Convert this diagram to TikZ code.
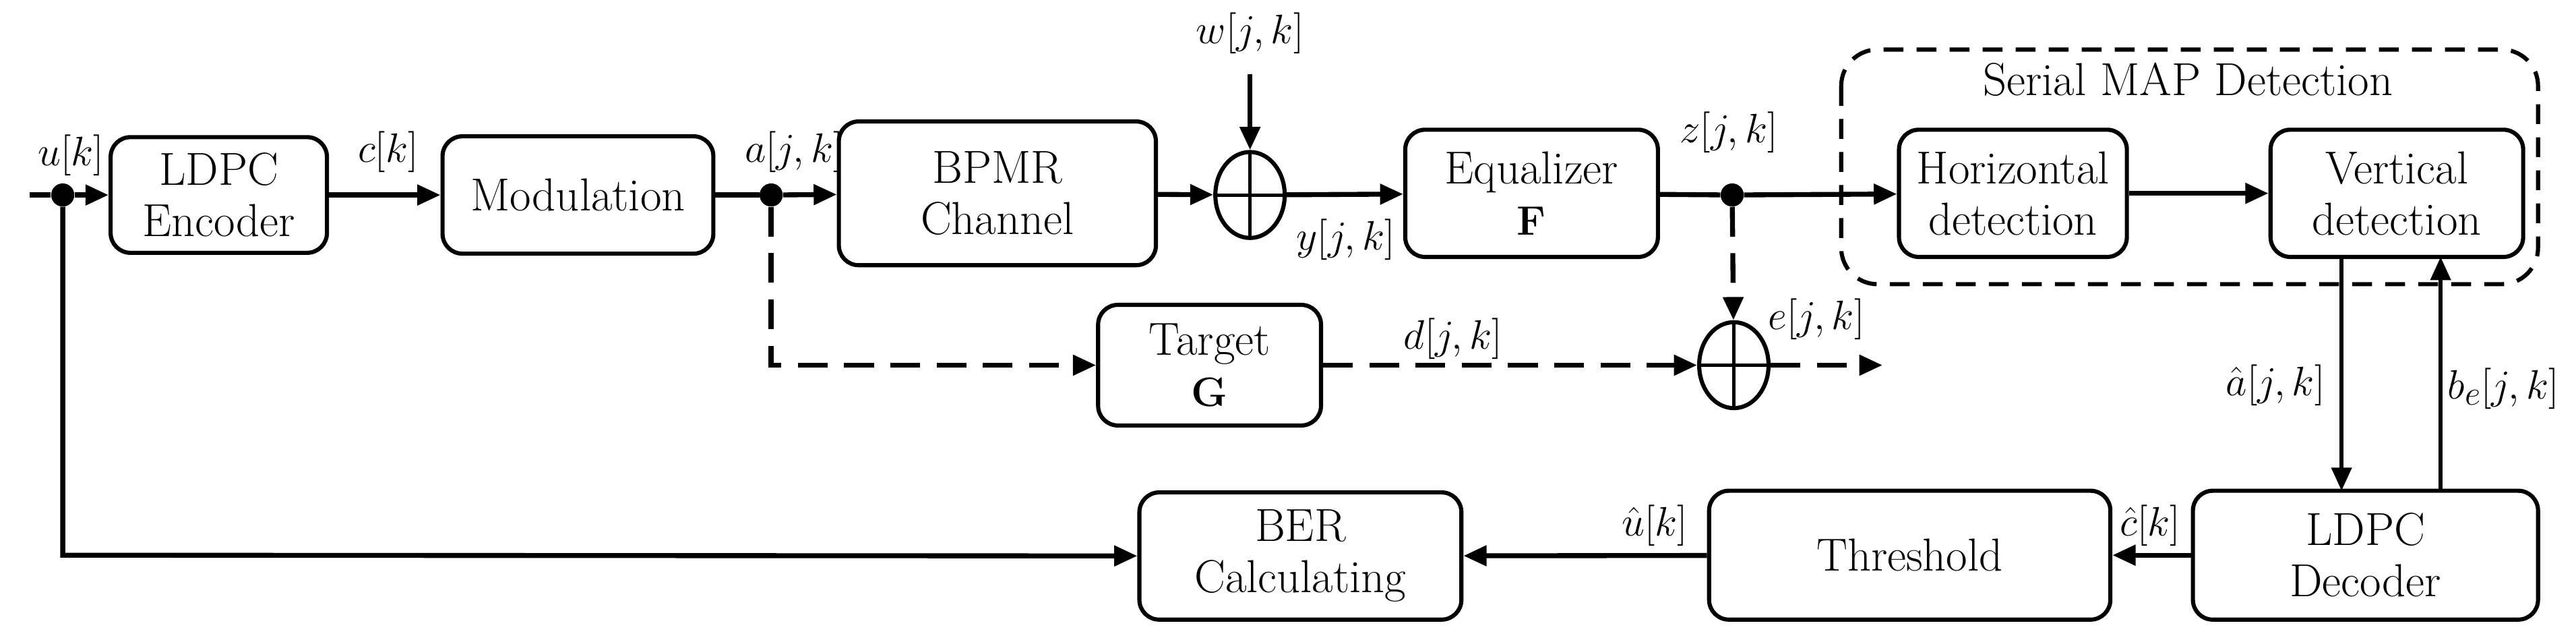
\documentclass[tikz,border=0pt]{standalone}
\usetikzlibrary{arrows.meta,shapes.geometric}
\begin{document}
\begin{tikzpicture}[x=1pt,y=-1pt,
  every node/.style={font=\fontsize{28}{31}\selectfont},
  blk/.style={draw,line width=2.5pt,rounded corners=12pt,align=center,inner sep=0pt},
  conn/.style={line width=3pt,-{Triangle[length=14pt,width=12pt]}},
  dconn/.style={conn,dash pattern=on 18pt off 10pt},
  dot/.style={circle,fill,inner sep=0pt,minimum size=14pt},
  sum/.style={draw,line width=2.5pt,ellipse,minimum width=42pt,minimum height=52pt,inner sep=0pt,
    path picture={\draw[line width=2pt] (path picture bounding box.north)--(path picture bounding box.south) (path picture bounding box.west)--(path picture bounding box.east);}},
  lbl/.style={inner sep=1pt}]
\useasboundingbox (0,0) rectangle (1560,386.1);
\node[blk,minimum width=131pt,minimum height=70pt] (enc) at (132.5,118) {LDPC\\Encoder};
\node[blk,minimum width=164pt,minimum height=71pt] (mod) at (350,118) {Modulation};
\node[blk,minimum width=192pt,minimum height=87pt] (ch) at (604,117) {BPMR\\Channel};
\node[blk,minimum width=153pt,minimum height=77pt] (eq) at (927.5,117) {Equalizer\\$\mathbf{F}$};
\node[blk,minimum width=138pt,minimum height=77pt] (hd) at (1219,117) {Horizontal\\detection};
\node[blk,minimum width=153pt,minimum height=77pt] (vd) at (1451.5,117) {Vertical\\detection};
\node[blk,minimum width=135pt,minimum height=73pt] (tg) at (732.5,221) {Target\\$\mathbf{G}$};
\node[blk,minimum width=209pt,minimum height=78pt] (dec) at (1432.5,336) {LDPC\\Decoder};
\node[blk,minimum width=243pt,minimum height=78pt] (th) at (1156.5,336) {Threshold};
\node[blk,minimum width=195pt,minimum height=77pt] (ber) at (787.5,336.5) {BER\\Calculating};
\draw[line width=2.5pt,dash pattern=on 12pt off 8pt,rounded corners=22pt] (1115,30) rectangle (1537,172);
\node at (1325,48) {Serial MAP Detection};
\node[dot] (u) at (38,118) {};
\node[dot] (a) at (467,118) {};
\node[dot] (z) at (1049,118) {};
\node[sum] (s1) at (757,118) {};
\node[sum] (s2) at (1050,221) {};
\coordinate (in) at (18,118);
\coordinate (w) at (757,45);
\coordinate (eout) at (1140,221);
\coordinate (fb) at (38,336);
\coordinate (ad) at (467,221);
\draw[line width=3pt] (in) -- (u);
\draw[conn] (u) -- (enc);
\draw[conn] (enc) -- (mod);
\draw[line width=3pt] (mod) -- (a);
\draw[conn] (a) -- (ch);
\draw[conn] (ch) -- (s1);
\draw[conn] (w) -- (s1);
\draw[conn] (s1) -- (eq);
\draw[line width=3pt] (eq) -- (z);
\draw[conn] (z) -- (hd);
\draw[conn] (hd) -- (vd);
\draw[dconn] (a) -- (ad) -- (tg);
\draw[dconn] (tg) -- (s2);
\draw[dconn] (z) -- (s2);
\draw[dconn] (s2) -- (eout);
\draw[line width=2.5pt,-{Triangle[length=14pt,width=12pt]}] (1418,155.5) -- (1418,297);
\draw[line width=2.5pt,-{Triangle[length=14pt,width=12pt]}] (1478,297) -- (1478,155.5);
\draw[conn] (dec) -- (th);
\draw[conn] (th) -- (ber);
\draw[conn] (u) -- (fb) -- (ber);
\node[lbl] at (43,94) {$u[k]$};
\node[lbl] at (235,92) {$c[k]$};
\node[lbl] at (481,92) {$a[j,k]$};
\node[lbl] at (757,20) {$w[j,k]$};
\node[lbl] at (815,145) {$y[j,k]$};
\node[lbl] at (1047,80) {$z[j,k]$};
\node[lbl] at (880,205) {$d[j,k]$};
\node[lbl] at (1100,193) {$e[j,k]$};
\node[lbl] at (1378,233) {$\hat{a}[j,k]$};
\node[lbl] at (1516,235) {$b_e[j,k]$};
\node[lbl] at (1002,318) {$\hat{u}[k]$};
\node[lbl] at (1302,318) {$\hat{c}[k]$};
\end{tikzpicture}
\end{document}
